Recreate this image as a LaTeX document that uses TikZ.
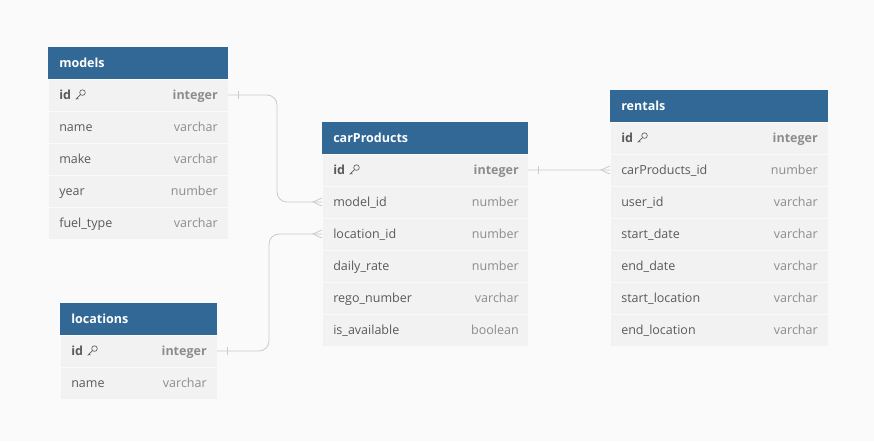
\documentclass[tikz,border=0pt]{standalone}
\usepackage{fontspec}
\setmainfont{Open Sans}
\usepackage{xcolor}
\usetikzlibrary{positioning}

\definecolor{hdrblue}{HTML}{316895}
\definecolor{rowgray}{HTML}{F2F2F2}
\definecolor{rowline}{HTML}{FAFAFA}
\definecolor{bggray}{HTML}{FAFAFA}
\definecolor{fldgray}{HTML}{5A5A5A}
\definecolor{typgray}{HTML}{8C8C8C}
\definecolor{relgray}{HTML}{CBCBCB}

\tikzset{
  keyicon/.pic={
    \draw[fldgray,line width=0.45pt] (0.06,0.06) circle (0.07);
    \draw[fldgray,line width=0.45pt] (0.012,0.012) -- (-0.11,-0.11) (-0.075,-0.075) -- (-0.045,-0.105);
  }
}

\begin{document}
\begin{tikzpicture}[every node/.style={font=\fontsize{8.9}{10}\selectfont},
    hdr/.style={fill=hdrblue,anchor=north west,minimum height=0.8cm,inner sep=0,outer sep=0},
    row/.style={fill=rowgray,draw=rowline,line width=0.4pt,minimum height=0.8cm,inner sep=0,outer sep=0},
    ttl/.style={anchor=base west,inner sep=0,text=white,font=\fontsize{8.9}{10}\selectfont\bfseries},
    fld/.style={anchor=base west,inner sep=0,text=fldgray},
    typ/.style={anchor=base east,inner sep=0,text=typgray},
    rel/.style={draw=relgray,line width=0.6pt,rounded corners=0.25cm}]
		% background
		\fill[bggray] (0,0) rectangle (21.85,-11.025);

		% draw models table
		\node (M0) at (1.2,-1.175) [hdr,minimum width=4.5cm] {};
		\node (M0n) at ([xshift=0.275cm,yshift=-0.11cm]M0.west) [ttl] {models};
		\node (M1) [row,minimum width=4.5cm,below=0cm of M0] {};
		\node (M1n) at ([xshift=0.275cm,yshift=-0.11cm]M1.west) [fld] {\textbf{id}};
		\node (M1t) at ([xshift=-0.25cm,yshift=-0.11cm]M1.east) [typ] {\textbf{integer}};
		\node (M2) [row,minimum width=4.5cm,below=0cm of M1] {};
		\node (M2n) at ([xshift=0.275cm,yshift=-0.11cm]M2.west) [fld] {name};
		\node (M2t) at ([xshift=-0.25cm,yshift=-0.11cm]M2.east) [typ] {varchar};
		\node (M3) [row,minimum width=4.5cm,below=0cm of M2] {};
		\node (M3n) at ([xshift=0.275cm,yshift=-0.11cm]M3.west) [fld] {make};
		\node (M3t) at ([xshift=-0.25cm,yshift=-0.11cm]M3.east) [typ] {varchar};
		\node (M4) [row,minimum width=4.5cm,below=0cm of M3] {};
		\node (M4n) at ([xshift=0.275cm,yshift=-0.11cm]M4.west) [fld] {year};
		\node (M4t) at ([xshift=-0.25cm,yshift=-0.11cm]M4.east) [typ] {number};
		\node (M5) [row,minimum width=4.5cm,below=0cm of M4] {};
		\node (M5n) at ([xshift=0.275cm,yshift=-0.11cm]M5.west) [fld] {fuel\_type};
		\node (M5t) at ([xshift=-0.25cm,yshift=-0.11cm]M5.east) [typ] {varchar};

		% draw carProducts table
		\node (C0) at (8.05,-3.05) [hdr,minimum width=5.15cm] {};
		\node (C0n) at ([xshift=0.275cm,yshift=-0.11cm]C0.west) [ttl] {carProducts};
		\node (C1) [row,minimum width=5.15cm,below=0cm of C0] {};
		\node (C1n) at ([xshift=0.275cm,yshift=-0.11cm]C1.west) [fld] {\textbf{id}};
		\node (C1t) at ([xshift=-0.225cm,yshift=-0.11cm]C1.east) [typ] {\textbf{integer}};
		\node (C2) [row,minimum width=5.15cm,below=0cm of C1] {};
		\node (C2n) at ([xshift=0.275cm,yshift=-0.11cm]C2.west) [fld] {model\_id};
		\node (C2t) at ([xshift=-0.225cm,yshift=-0.11cm]C2.east) [typ] {number};
		\node (C3) [row,minimum width=5.15cm,below=0cm of C2] {};
		\node (C3n) at ([xshift=0.275cm,yshift=-0.11cm]C3.west) [fld] {location\_id};
		\node (C3t) at ([xshift=-0.225cm,yshift=-0.11cm]C3.east) [typ] {number};
		\node (C4) [row,minimum width=5.15cm,below=0cm of C3] {};
		\node (C4n) at ([xshift=0.275cm,yshift=-0.11cm]C4.west) [fld] {daily\_rate};
		\node (C4t) at ([xshift=-0.225cm,yshift=-0.11cm]C4.east) [typ] {number};
		\node (C5) [row,minimum width=5.15cm,below=0cm of C4] {};
		\node (C5n) at ([xshift=0.275cm,yshift=-0.11cm]C5.west) [fld] {rego\_number};
		\node (C5t) at ([xshift=-0.225cm,yshift=-0.11cm]C5.east) [typ] {varchar};
		\node (C6) [row,minimum width=5.15cm,below=0cm of C5] {};
		\node (C6n) at ([xshift=0.275cm,yshift=-0.11cm]C6.west) [fld] {is\_available};
		\node (C6t) at ([xshift=-0.225cm,yshift=-0.11cm]C6.east) [typ] {boolean};

		% draw rentals table
		\node (R0) at (15.25,-2.25) [hdr,minimum width=5.45cm] {};
		\node (R0n) at ([xshift=0.275cm,yshift=-0.11cm]R0.west) [ttl] {rentals};
		\node (R1) [row,minimum width=5.45cm,below=0cm of R0] {};
		\node (R1n) at ([xshift=0.275cm,yshift=-0.11cm]R1.west) [fld] {\textbf{id}};
		\node (R1t) at ([xshift=-0.25cm,yshift=-0.11cm]R1.east) [typ] {\textbf{integer}};
		\node (R2) [row,minimum width=5.45cm,below=0cm of R1] {};
		\node (R2n) at ([xshift=0.275cm,yshift=-0.11cm]R2.west) [fld] {carProducts\_id};
		\node (R2t) at ([xshift=-0.25cm,yshift=-0.11cm]R2.east) [typ] {number};
		\node (R3) [row,minimum width=5.45cm,below=0cm of R2] {};
		\node (R3n) at ([xshift=0.275cm,yshift=-0.11cm]R3.west) [fld] {user\_id};
		\node (R3t) at ([xshift=-0.25cm,yshift=-0.11cm]R3.east) [typ] {varchar};
		\node (R4) [row,minimum width=5.45cm,below=0cm of R3] {};
		\node (R4n) at ([xshift=0.275cm,yshift=-0.11cm]R4.west) [fld] {start\_date};
		\node (R4t) at ([xshift=-0.25cm,yshift=-0.11cm]R4.east) [typ] {varchar};
		\node (R5) [row,minimum width=5.45cm,below=0cm of R4] {};
		\node (R5n) at ([xshift=0.275cm,yshift=-0.11cm]R5.west) [fld] {end\_date};
		\node (R5t) at ([xshift=-0.25cm,yshift=-0.11cm]R5.east) [typ] {varchar};
		\node (R6) [row,minimum width=5.45cm,below=0cm of R5] {};
		\node (R6n) at ([xshift=0.275cm,yshift=-0.11cm]R6.west) [fld] {start\_location};
		\node (R6t) at ([xshift=-0.25cm,yshift=-0.11cm]R6.east) [typ] {varchar};
		\node (R7) [row,minimum width=5.45cm,below=0cm of R6] {};
		\node (R7n) at ([xshift=0.275cm,yshift=-0.11cm]R7.west) [fld] {end\_location};
		\node (R7t) at ([xshift=-0.25cm,yshift=-0.11cm]R7.east) [typ] {varchar};

		% draw locations table
		\node (L0) at (1.5,-7.575) [hdr,minimum width=3.925cm] {};
		\node (L0n) at ([xshift=0.275cm,yshift=-0.11cm]L0.west) [ttl] {locations};
		\node (L1) [row,minimum width=3.925cm,below=0cm of L0] {};
		\node (L1n) at ([xshift=0.275cm,yshift=-0.11cm]L1.west) [fld] {\textbf{id}};
		\node (L1t) at ([xshift=-0.25cm,yshift=-0.11cm]L1.east) [typ] {\textbf{integer}};
		\node (L2) [row,minimum width=3.925cm,below=0cm of L1] {};
		\node (L2n) at ([xshift=0.275cm,yshift=-0.11cm]L2.west) [fld] {name};
		\node (L2t) at ([xshift=-0.25cm,yshift=-0.11cm]L2.east) [typ] {varchar};

		% draw key icons next to the primary keys
		\pic at ([xshift=0.22cm,yshift=0.11cm]M1n.base east) {keyicon};
		\pic at ([xshift=0.22cm,yshift=0.11cm]C1n.base east) {keyicon};
		\pic at ([xshift=0.22cm,yshift=0.11cm]R1n.base east) {keyicon};
		\pic at ([xshift=0.22cm,yshift=0.11cm]L1n.base east) {keyicon};

		% draw relations between the tables
		\draw[rel] (M1.east) -- ++(1.225,0) |- (C2.west);
		\draw[rel] (L1.east) -- ++(1.3,0) |- (C3.west);
		\draw[rel] (C1.east) -- (R2.west);

		% draw one-side ticks
		\draw[rel] ([xshift=0.25cm,yshift=0.1cm]M1.east) -- ([xshift=0.25cm,yshift=-0.1cm]M1.east);
		\draw[rel] ([xshift=0.25cm,yshift=0.1cm]L1.east) -- ([xshift=0.25cm,yshift=-0.1cm]L1.east);
		\draw[rel] ([xshift=0.25cm,yshift=0.1cm]C1.east) -- ([xshift=0.25cm,yshift=-0.1cm]C1.east);

		% draw many-side crow's feet
		\draw[rel,rounded corners=0] ([yshift=0.1cm]C2.west) -- ([xshift=-0.225cm]C2.west) -- ([yshift=-0.1cm]C2.west);
		\draw[rel,rounded corners=0] ([yshift=0.1cm]C3.west) -- ([xshift=-0.225cm]C3.west) -- ([yshift=-0.1cm]C3.west);
		\draw[rel,rounded corners=0] ([yshift=0.1cm]R2.west) -- ([xshift=-0.225cm]R2.west) -- ([yshift=-0.1cm]R2.west);
	\end{tikzpicture}
\end{document}
